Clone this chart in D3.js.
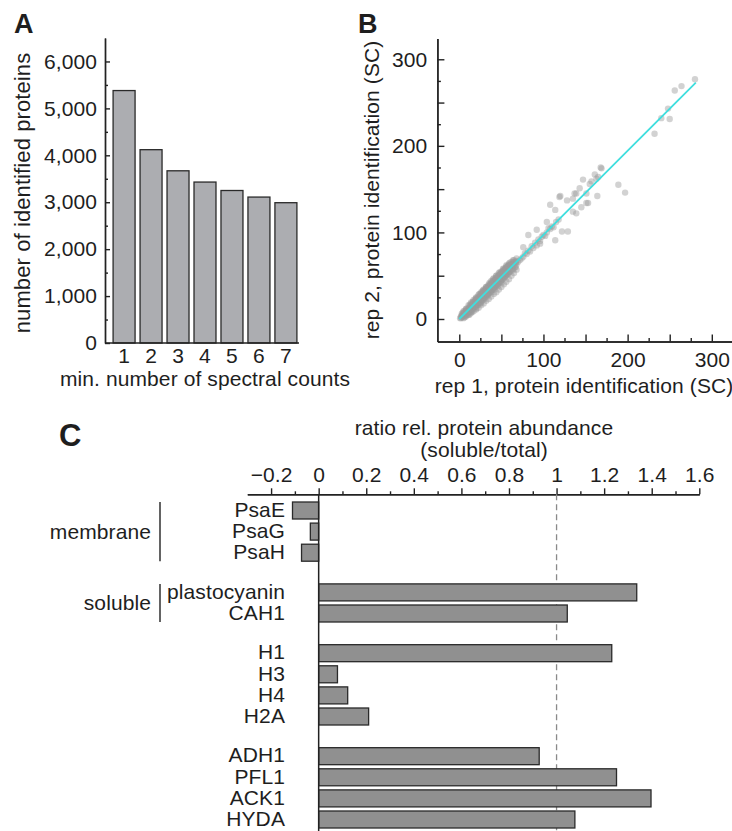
<!DOCTYPE html>
<html>
<head>
<meta charset="utf-8">
<script src="https://cdn.jsdelivr.net/npm/d3@7"></script>
<style>
body{margin:0;background:#fff}
text{font-family:"Liberation Sans",Arial,Helvetica,sans-serif;fill:#1e1e1e;letter-spacing:0.1px}
</style>
</head>
<body>
<div id="fig"></div>
<script>
// ---- panel A: identified proteins vs min. spectral counts
var minCounts=["1","2","3","4","5","6","7"];
var proteinCounts=[5380,4120,3670,3430,3250,3110,2990];
var ticksA=[0,1000,2000,3000,4000,5000,6000];

// ---- panel B: rep 1 vs rep 2 spectral counts [rep1, rep2]
var scPairs=[
[1,1],[2,1],[2,3],[3,2],[3,4],[4,3],[4,5],[5,4],[5,6],[6,4],[6,7],[7,5],[7,8],[8,6],[8,9],[9,7],[9,10],[10,8],[10,11],[11,9],
[11,12],[12,10],[12,13],[13,10],[13,14],[14,12],[14,16],[15,12],[15,16],[16,13],[16,17],[17,14],[17,19],[18,15],[18,19],[19,16],
[19,21],[20,16],[20,22],[21,18],[21,23],[22,18],[22,24],[23,19],[23,25],[24,20],[24,26],[25,21],[25,27],[26,22],[26,28],[27,22],
[27,30],[28,24],[28,30],[29,24],[29,32],[30,25],[30,33],[31,27],[31,33],[32,27],[32,35],[33,28],[33,36],[34,29],[34,37],[35,30],
[35,38],[36,31],[36,39],[37,32],[37,40],[38,33],[38,41],[39,34],[39,42],[40,35],[40,43],[41,36],[41,44],[42,37],[42,45],[43,38],
[43,46],[44,39],[44,47],[45,40],[45,48],[46,41],[46,49],[47,42],[47,50],[48,43],[48,51],[49,44],[49,52],[50,45],[50,53],[51,46],
[51,54],[52,47],[52,55],[53,48],[53,56],[54,49],[54,57],[55,50],[55,58],[56,51],[56,59],[57,52],[57,60],[58,53],[58,61],[59,54],
[59,62],[60,55],[60,62],[62,57],[62,63],[64,58],[64,64],[66,60],[66,66],[68,63],[68,67],[70,66],[72,68],
[3,3],[5,5],[8,8],[10,10],[12,12],[15,14],[18,17],[20,19],[23,22],[25,24],[28,27],[30,29],[33,32],[35,34],[38,37],[40,39],
[43,42],[45,44],[48,47],[50,48],[53,51],[55,53],[58,56],[60,58],[63,61],[65,63],[67,65],
[6,2],[10,6],[14,9],[18,13],[22,16],[26,20],[30,23],[34,27],[38,31],[42,34],[46,38],[50,42],[20,12],[25,18],[15,8],[12,5],
[4,7],[8,11],[12,15],[16,20],[20,24],[24,29],[28,33],[32,37],[36,42],[40,46],[44,50],[48,54],[52,58],[56,62],[60,65],[64,68],
[5,1],[5,9],[8,3],[8,12],[11,5],[11,16],[14,7],[14,19],[17,9],[17,22],[20,11],[20,25],[23,13],[23,28],[26,16],[26,31],
[29,18],[29,34],[32,21],[32,37],[35,23],[35,40],[38,26],[38,44],[41,29],[41,47],[44,31],[44,50],[47,34],[47,53],[50,37],
[50,55],[53,40],[53,58],[56,43],[56,61],[59,46],[59,64],[62,50],[62,66],[65,53],[65,68],[68,57],[68,70],
[7,3],[10,5],[13,8],[16,11],[19,14],[22,17],[25,19],[28,22],[31,25],[34,28],[37,31],[40,34],[43,37],[46,40],[49,43],[52,46],
[55,49],[58,52],[61,55],[64,57],[67,60],
[3,6],[6,9],[9,12],[13,17],[16,19],[19,23],[22,26],[25,29],[28,32],[31,35],[34,38],[37,41],[40,44],[43,47],[46,50],[49,53],
[52,56],[55,59],[58,61],[61,63],[64,66],
[74,70],[76,72],[78,76],[80,75],[82,79],[84,78],[86,84],[88,82],[90,88],[92,85],[94,92],[96,90],[98,95],[100,97],[102,96],
[104,100],[106,105],[108,104],[110,107],[112,106],[115,112],[118,115],[76,83],[82,97],[92,103],[96,87],[104,112],[108,132],
[114,126],[114,91],[122,101],[129,101],
[169,174],[161,167],[197,146],[189,155],[151,145],[151,134],[137,145],[139,122],[119,141],[128,137],[135,124],
[143,151],[157,159],[163,162],[168,175],[147,161],[155,156],[165,164],[164,142],[139,145],[135,139],[120,142],
[153,134],[145,129],[280,277],[264,269],[256,264],[248,243],[250,231],[232,214],[240,232]
];
var fitLine=[[0,0],[281,273]];
var ticksB=[0,100,200,300];

// ---- panel C: soluble/total ratios
var proteins=["PsaE","PsaG","PsaH","plastocyanin","CAH1","H1","H3","H4","H2A","ADH1","PFL1","ACK1","HYDA"];
var groupIdx=[0,0,0,1,1,2,2,2,2,3,3,3,3];
var ratios=[-0.11,-0.035,-0.072,1.337,1.045,1.232,0.079,0.122,0.21,0.927,1.252,1.397,1.077];
var groupNames=["membrane","soluble"];
var ticksC=[-0.2,0,0.2,0.4,0.6,0.8,1,1.2,1.4,1.6];
var tickLabelsC=["\u22120.2","0","0.2","0.4","0.6","0.8","1","1.2","1.4","1.6"];

var fs=21;
var svg=d3.select("#fig").append("svg")
    .attr("width",732)
    .attr("height",831)
    .style("display","block");

function styleAxis(g){
    g.selectAll("path,line").attr("stroke","#222").attr("stroke-width",1.4);
    g.selectAll("text").style("font-size",fs+"px").attr("fill","#1e1e1e");
}

// panel letters
svg.append("text").text("A").attr("x",14).attr("y",33).style("font-size","27px").style("font-weight","bold")
svg.append("text").text("B").attr("x",358).attr("y",33).style("font-size","27px").style("font-weight","bold")
svg.append("text").text("C").attr("x",59).attr("y",446).style("font-size","31px").style("font-weight","bold")

// ================= A
var yA=d3.scaleLinear().domain([0,6500]).range([343,38]);
var xA=d3.scaleBand().domain(minCounts).range([105,305]).paddingInner(0.185).paddingOuter(0.3);

svg.append("g").attr("transform","translate(105,0)")
   .call(d3.axisLeft(yA).tickValues(d3.range(500,6500,1000)).tickSize(-3).tickFormat("").tickSizeOuter(0))
   .call(styleAxis)
svg.append("g").attr("transform","translate(105,0)")
   .call(d3.axisLeft(yA).tickValues(ticksA).tickFormat(d3.format(",")).tickSize(-5).tickPadding(8).tickSizeOuter(0))
   .call(styleAxis)

svg.append("g").selectAll("rect")
   .data(proteinCounts)
   .enter()
   .append("rect")
   .attr("x",function(d,i){return xA(minCounts[i])})
   .attr("y",function(d){return yA(d)})
   .attr("width",xA.bandwidth())
   .attr("height",function(d){return yA(0)-yA(d)})
   .attr("fill","#acadb1")
   .attr("stroke","#2a2a2a")
   .attr("stroke-width",1.3)

svg.append("line").attr("x1",105).attr("x2",299).attr("y1",yA(0)).attr("y2",yA(0))
   .attr("stroke","#222").attr("stroke-width",1.4)
var xAxisA=svg.append("g").attr("transform","translate(0,"+yA(0)+")")
   .call(d3.axisBottom(xA).tickSize(0).tickPadding(5))
   .call(styleAxis)
xAxisA.select(".domain").remove()

svg.append("text").text("min. number of spectral counts")
   .attr("x",205).attr("y",386).attr("text-anchor","middle").style("font-size",fs+"px")
svg.append("text").text("number of identified proteins")
   .attr("transform","translate(22,193) rotate(-90)")
   .attr("dy","0.35em").attr("text-anchor","middle").style("font-size","22px")

// ================= B
var xB=d3.scaleLinear().domain([-26,324]).range([437.4,732]);
var yB=d3.scaleLinear().domain([-26,324]).range([341.5,38.5]);

function labB(d){return ticksB.indexOf(d)>=0?d:""}
svg.append("g").attr("transform","translate(0,341.5)")
   .call(d3.axisBottom(xB).tickValues(d3.range(25,325,50)).tickSize(-3.5).tickFormat("").tickSizeOuter(0))
   .call(styleAxis)
svg.append("g").attr("transform","translate(0,341.5)")
   .call(d3.axisBottom(xB).tickValues(d3.range(0,325,50)).tickSize(-7).tickPadding(11).tickFormat(labB).tickSizeOuter(0))
   .call(styleAxis)
svg.append("g").attr("transform","translate(437.4,0)")
   .call(d3.axisLeft(yB).tickValues(d3.range(25,325,50)).tickSize(-3.5).tickFormat("").tickSizeOuter(0))
   .call(styleAxis)
svg.append("g").attr("transform","translate(437.4,0)")
   .call(d3.axisLeft(yB).tickValues(d3.range(0,325,50)).tickSize(-7).tickPadding(10).tickFormat(labB).tickSizeOuter(0))
   .call(styleAxis)

svg.append("g").selectAll("circle")
   .data(scPairs)
   .enter()
   .append("circle")
   .attr("cx",function(d){return xB(d[0])})
   .attr("cy",function(d){return yB(d[1])})
   .attr("r",3.2)
   .attr("fill","#9c9c9c")
   .attr("fill-opacity",0.45)

svg.append("path")
   .datum(fitLine)
   .attr("d",d3.line().x(function(d){return xB(d[0])}).y(function(d){return yB(d[1])}))
   .attr("stroke","#3fdede")
   .attr("stroke-width",1.8)
   .attr("fill","none")

svg.append("text").text("rep 1, protein identification (SC)")
   .attr("x",584).attr("y",393).attr("text-anchor","middle").style("font-size",fs+"px")
svg.append("text").text("rep 2, protein identification (SC)")
   .attr("transform","translate(372,190) rotate(-90)")
   .attr("dy","0.35em").attr("text-anchor","middle").style("font-size","21px")

// ================= C
var xC=d3.scaleLinear().domain([-0.3,1.6]).range([247.3,699.3]);
var rowPos=proteins.map(function(p,i){return i+groupIdx[i]*0.88});
var yC=d3.scaleLinear().domain([0,d3.max(rowPos)]).range([510.5,819.5]);
var barH=17;

svg.append("text").text("ratio rel. protein abundance")
   .attr("x",484).attr("y",435).attr("text-anchor","middle").style("font-size",fs+"px")
svg.append("text").text("(soluble/total)")
   .attr("x",484).attr("y",457).attr("text-anchor","middle").style("font-size",fs+"px")

svg.append("g").attr("transform","translate(0,494.3)")
   .call(d3.axisTop(xC).tickValues([-0.1,0.1,0.3,0.5,0.7,0.9,1.1,1.3,1.5]).tickSize(3).tickFormat("").tickSizeOuter(0))
   .call(styleAxis)
svg.append("g").attr("transform","translate(0,494.3)")
   .call(d3.axisTop(xC).tickValues(ticksC).tickSize(6).tickPadding(6).tickSizeOuter(0)
         .tickFormat(function(d,i){return tickLabelsC[i]}))
   .call(styleAxis)

svg.append("line").attr("x1",xC(1)).attr("x2",xC(1)).attr("y1",494.3).attr("y2",831)
   .attr("stroke","#8a8a8a").attr("stroke-width",1.3).attr("stroke-dasharray","6,4")

svg.append("g").selectAll("rect")
   .data(ratios)
   .enter()
   .append("rect")
   .attr("x",function(d){return xC(Math.min(0,d))})
   .attr("y",function(d,i){return yC(rowPos[i])-barH/2})
   .attr("width",function(d){return Math.abs(xC(d)-xC(0))})
   .attr("height",barH)
   .attr("fill","#909090")
   .attr("stroke","#2a2a2a")
   .attr("stroke-width",1.3)

svg.append("line").attr("x1",xC(0)).attr("x2",xC(0)).attr("y1",494.3).attr("y2",831)
   .attr("stroke","#222").attr("stroke-width",1.5)

svg.append("g").selectAll("text")
   .data(proteins)
   .enter()
   .append("text")
   .text(function(d){return d})
   .attr("x",285)
   .attr("y",function(d,i){return yC(rowPos[i])})
   .attr("dy","0.3em")
   .attr("text-anchor","end")
   .style("font-size",fs+"px")

groupNames.forEach(function(name,g){
    var rows=rowPos.filter(function(p,i){return groupIdx[i]===g});
    var top=yC(d3.min(rows))-barH/2, bot=yC(d3.max(rows))+barH/2;
    svg.append("line").attr("x1",160).attr("x2",160).attr("y1",top).attr("y2",bot)
       .attr("stroke","#222").attr("stroke-width",1.4)
    svg.append("text").text(name)
       .attr("x",151).attr("y",(top+bot)/2).attr("dy","0.33em")
       .attr("text-anchor","end").style("font-size",fs+"px")
})
</script>
</body>
</html>
